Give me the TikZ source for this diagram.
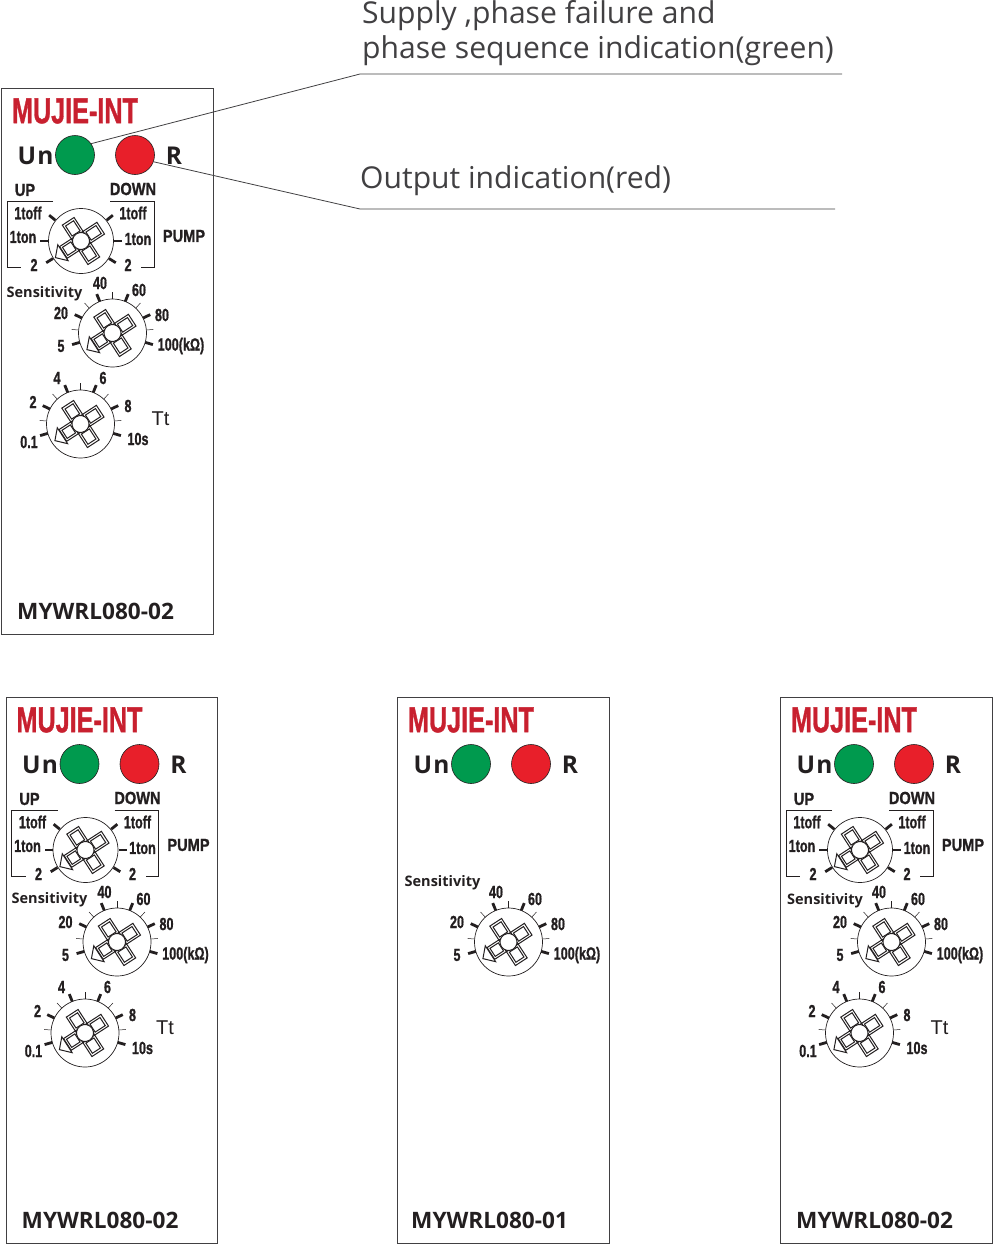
\documentclass[tikz,border=0pt]{standalone}
\usepackage{fontspec}
\setmainfont{Open Sans}
\setsansfont{Liberation Sans}
\newfontfamily\heavyfont[FakeBold=1.2]{Liberation Sans Bold}
\newfontfamily\wideunfont[LetterSpace=5]{Open Sans Bold}
\definecolor{mujred}{HTML}{C8202F}
\definecolor{ledgreen}{HTML}{009A4E}
\definecolor{ledred}{HTML}{E81F2A}
\definecolor{inkdark}{HTML}{231F20}
\definecolor{textgrey}{HTML}{414042}
\tikzset{
x=1pt, y=-1pt, % one point is one pixel of the sheet
every node/.style={inner sep=0pt},
boxframe/.style={draw=textgrey, line width=.8pt, minimum width=211.5pt, minimum height=546pt, anchor=north west},
led/.style={circle, draw=inkdark, line width=.6pt, minimum size=39pt},
brand/.style={font=\heavyfont\fontsize{36}{36}\selectfont, text=mujred, xscale=.7},
unlabel/.style={font=\wideunfont\fontsize{24.5}{27}\selectfont, text=inkdark},
partno/.style={font=\bfseries\fontsize{22.6}{23}\selectfont, text=inkdark, anchor=west},
dial/.style={font=\heavyfont\fontsize{17.5}{18}\selectfont, text=inkdark, xscale=.72},
capsdial/.style={dial, xscale=1.16},
senslabel/.style={font=\bfseries\fontsize{14.5}{15}\selectfont, text=inkdark},
ttlabel/.style={font=\sffamily\fontsize{20}{20}\selectfont, text=inkdark},
callout/.style={font=\fontsize{30.1}{35}\selectfont, text=textgrey, align=left},
leader/.style={draw=textgrey, line width=.8pt},
% the rotary switch without its scale
knob/.pic={
  \draw[inkdark, line width=.7pt, fill=white] (0,0) circle (#1);
  \begin{scope}[rotate=33, inkdark, line width=1pt]
    \foreach \a in {0,90,-90} {
      \draw[rotate=\a] (7,-7) rectangle (23.5,7);
      \draw[rotate=\a] (9,-4.8) rectangle (21,4.8);
    }
    \draw (-7,-7) rectangle (-21,7);
    \draw (-9,-4.8) rectangle (-19,4.8);
    \draw[fill=white] (-21.5,-9.5) -- (-30.5,0) -- (-21.5,9.5) -- cycle;
    \draw[fill=white] (0,0) circle (8.5);
  \end{scope}
},
% front plate with leds
plate/.pic={
  \node[boxframe] (-box) at (0,0) {};
  \node[brand] (-brand) at (74,23) {MUJIE-INT};
  \node[unlabel] (-un) at (34.5,68) {Un};
  \node[led, fill=ledgreen] (-green) at (74,67) {};
  \node[led, fill=ledred] (-red) at (134,67) {};
  \node[unlabel] (-r) at (173,68) {R};
},
pumpswitch/.pic={
  \draw[inkdark, line width=.7pt] (52,113) -- (6,113) -- (6,179) -- (20,179);
  \draw[inkdark, line width=.7pt] (109,113) -- (153,113) -- (153,179) -- (140,179);
  \pic at (80,153) {knob=32.5};
  \foreach \a in {141,39,180,0,212,-32}
    \draw[inkdark, line width=2.8pt] (80,153) ++(-\a:33) -- ++(-\a:8);
  \node[capsdial] (-up) at (24,102) {UP};
  \node[capsdial] (-down) at (132,101) {DOWN};
  \node[dial] (-offl) at (27,125) {1toff};
  \node[dial] (-offr) at (132,125) {1toff};
  \node[dial] (-onl) at (22,149) {1ton};
  \node[dial] (-onr) at (137,151) {1ton};
  \node[dial] (-twol) at (33,177) {2};
  \node[dial] (-twor) at (127,177) {2};
  \node[capsdial] (-pump) at (183,148) {PUMP};
},
sensswitch/.pic={
  \pic at (111.5,245) {knob=34};
  \foreach \a in {196,154,112,68,26,-16}
    \draw[inkdark, line width=2.8pt] (111.5,245) ++(-\a:34) -- ++(-\a:8);
  \foreach \a in {175,133,90,47,5}
    \draw[inkdark, line width=.5pt] (111.5,245) ++(-\a:34) -- ++(-\a:7);
  \node[dial] (-s40) at (99,195) {40};
  \node[dial] (-s60) at (138,202) {60};
  \node[dial] (-s20) at (60,225) {20};
  \node[dial] (-s80) at (161,227) {80};
  \node[dial] (-s5) at (60,258) {5};
  \node[dial] (-s100) at (180,258) {100(kΩ)};
},
timeswitch/.pic={
  \pic at (79.5,336) {knob=34};
  \foreach \a in {196,154,112,68,26,-16}
    \draw[inkdark, line width=2.8pt] (79.5,336) ++(-\a:34) -- ++(-\a:8);
  \foreach \a in {175,133,90,47,5}
    \draw[inkdark, line width=.5pt] (79.5,336) ++(-\a:34) -- ++(-\a:7);
  \node[dial] (-t4) at (56,290) {4};
  \node[dial] (-t6) at (102,290) {6};
  \node[dial] (-t2) at (32,314) {2};
  \node[dial] (-t8) at (127,318) {8};
  \node[dial] (-t01) at (28,354) {0.1};
  \node[dial] (-t10) at (137,351) {10s};
  \node[ttlabel] (-tt) at (159.5,331) {Tt};
},
}
\begin{document}
\begin{tikzpicture}
\useasboundingbox (0,0) rectangle (993,1245);

\pic (pa) at (1,88) {plate};
\pic (pa) at (1,88) {pumpswitch};
\pic (pa) at (1,88) {sensswitch};
\pic (pa) at (1,88) {timeswitch};
\node[senslabel] (sensa) at (44.5,294) {Sensitivity};
\node[partno] (parta) at (17,611) {MYWRL080-02};

\pic (pb) at (5.5,697) {plate};
\pic (pb) at (5.5,697) {pumpswitch};
\pic (pb) at (5.5,697) {sensswitch};
\pic (pb) at (5.5,697) {timeswitch};
\node[senslabel] (sensb) at (49.5,900) {Sensitivity};
\node[partno] (partb) at (21.5,1220) {MYWRL080-02};

\pic (pc) at (397,697) {plate};
\pic (pc) at (397,697) {sensswitch};
\node[senslabel] (sensc) at (442.5,883) {Sensitivity};
\node[partno] (partc) at (411,1220) {MYWRL080-01};

\pic (pd) at (780,697) {plate};
\pic (pd) at (780,697) {pumpswitch};
\pic (pd) at (780,697) {sensswitch};
\pic (pd) at (780,697) {timeswitch};
\node[senslabel] (sensd) at (825,901) {Sensitivity};
\node[partno] (partd) at (796,1220) {MYWRL080-02};

% callouts for the two leds
\node[callout, anchor=north west] (supply) at (362,0) {Supply ,phase failure and\\phase sequence indication(green)};
\node[callout, anchor=west] (output) at (360,181) {Output indication(red)};
\coordinate (supplya) at (360,74);
\coordinate (supplyb) at (842,74);
\coordinate (outputa) at (360,209);
\coordinate (outputb) at (835,209);
\draw[leader] (pa-green.35) -- (supplya) -- (supplyb);
\draw[leader] (pa-red.-20) -- (outputa) -- (outputb);
\end{tikzpicture}
\end{document}
